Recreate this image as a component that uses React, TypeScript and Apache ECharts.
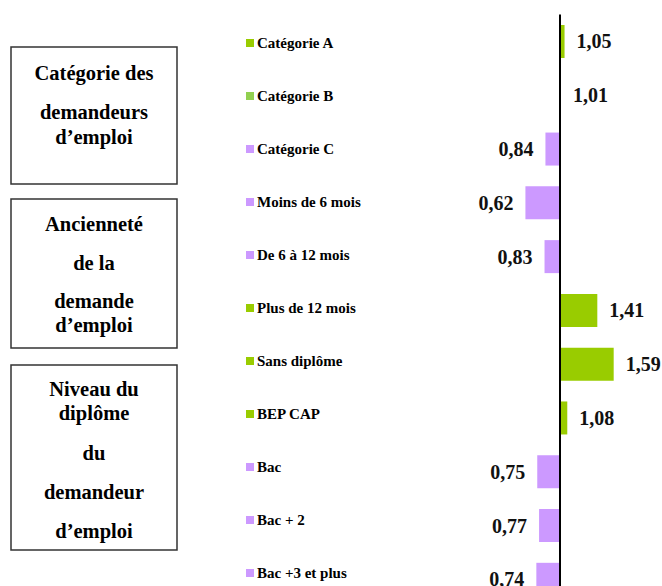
import React, { useEffect, useRef } from "react";
import * as echarts from "echarts";

const categories = [
  "Catégorie A",
  "Catégorie B",
  "Catégorie C",
  "Moins de 6 mois",
  "De 6 à 12 mois",
  "Plus de 12 mois",
  "Sans diplôme",
  "BEP CAP",
  "Bac",
  "Bac + 2",
  "Bac +3 et plus",
];
const values = [1.05, 1.01, 0.84, 0.62, 0.83, 1.41, 1.59, 1.08, 0.75, 0.77, 0.74];
const colorKeys = ["g", "lg", "p", "p", "p", "g", "g", "g", "p", "p", "p"];
const baseline = 1;

const palette: Record<string, string> = {
  g: "#99CC00",
  lg: "#92D050",
  p: "#CC99FF",
};

const boxes = [
  { y: 47, h: 137, lines: [["Catégorie des", 73], ["demandeurs", 112], ["d’emploi", 137]] },
  { y: 199, h: 149, lines: [["Ancienneté", 224], ["de la", 263], ["demande", 301], ["d’emploi", 325]] },
  {
    y: 365,
    h: 185,
    lines: [["Niveau du", 389], ["diplôme", 413], ["du", 453], ["demandeur", 492], ["d’emploi", 531]],
  },
];

const SERIF = '"Liberation Serif", "DejaVu Serif", serif';

export default function App() {
  const ref = useRef<HTMLDivElement>(null);
  useEffect(() => {
    if (!ref.current) return;
    const chart = echarts.init(ref.current, undefined, { renderer: "svg" });
    const graphics: any[] = [];
    boxes.forEach((b) => {
      graphics.push({
        type: "rect",
        shape: { x: 11, y: b.y, width: 166, height: b.h },
        style: { fill: "#fff", stroke: "#333", lineWidth: 1.5 },
      });
      b.lines.forEach(([t, y]) => {
        graphics.push({
          type: "text",
          x: 94,
          y: y as number,
          style: {
            text: t as string,
            align: "center",
            verticalAlign: "middle",
            fontFamily: SERIF,
            fontWeight: "bold",
            fontSize: 20.5,
            fill: "#000",
          },
        });
      });
    });
    const rich: any = {
      t: { fontFamily: SERIF, fontWeight: "bold", fontSize: 15, color: "#000", padding: [0, 0, 0, 3] },
    };
    Object.keys(palette).forEach((k) => {
      rich[k] = { width: 8, height: 8, backgroundColor: palette[k] };
    });
    chart.setOption({
      animation: false,
      backgroundColor: "#fff",
      grid: [
        { left: 423.5, width: 236.6, top: 14.6, height: 591.6 },
        { left: 246, width: 10, top: 16.5, height: 583 },
      ],
      xAxis: [
        { gridIndex: 0, type: "value", min: -1.5, max: 1.1, show: false },
        { gridIndex: 1, type: "value", min: 0, max: 1, show: false },
      ],
      yAxis: [
        { gridIndex: 0, type: "category", data: categories, inverse: true, show: false },
        {
          gridIndex: 1,
          type: "category",
          data: categories,
          inverse: true,
          axisLine: { show: false },
          axisTick: { show: false },
          splitLine: { show: false },
          axisLabel: {
            inside: true,
            margin: 0,
            formatter: (v: string, i: number) => `{${colorKeys[i]}| }{t|${v}}`,
            rich,
          },
        },
      ],
      graphic: graphics,
      series: [
        {
          type: "bar",
          xAxisIndex: 0,
          yAxisIndex: 0,
          barWidth: 33,
          data: values.map((v, i) => ({
            value: v - baseline,
            itemStyle: { color: palette[colorKeys[i]] },
            label: { position: v >= baseline ? "right" : "left" },
          })),
          label: {
            show: true,
            distance: 12,
            fontFamily: SERIF,
            fontWeight: "bold",
            fontSize: 20,
            color: "#111",
            formatter: (p: any) => values[p.dataIndex].toFixed(2).replace(".", ","),
          },
          markLine: {
            silent: true,
            symbol: "none",
            label: { show: false },
            lineStyle: { color: "#000", width: 2, type: "solid" },
            data: [{ xAxis: 0 }],
          },
        },
      ],
    });
    return () => chart.dispose();
  }, []);
  return (
    <div style={{ position: "absolute", left: 0, top: 0, width: 662, height: 586, overflow: "hidden", background: "#fff" }}>
      <div ref={ref} style={{ width: 662, height: 620 }} />
    </div>
  );
}
